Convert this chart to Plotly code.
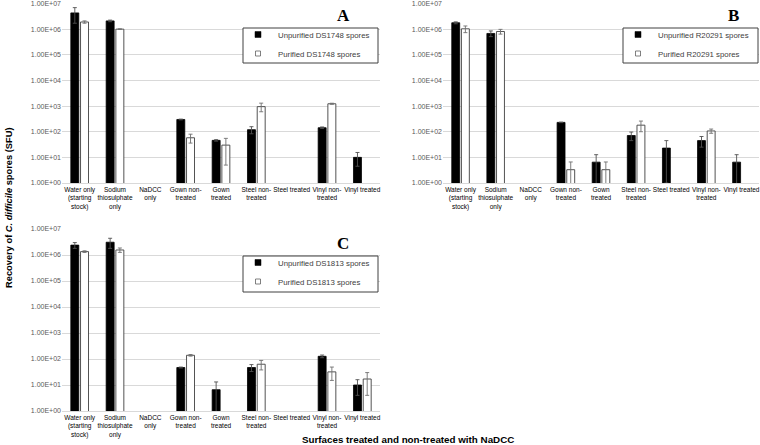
import plotly.graph_objects as go

categories = ["Water only<br>(starting<br>stock)", "Sodium<br>thiosulphate<br>only", "NaDCC<br>only",
              "Gown non-<br>treated", "Gown<br>treated", "Steel non-<br>treated", "Steel treated",
              "Vinyl non-<br>treated", "Vinyl treated"]

tick_vals = [1, 10, 100, 1000, 10000, 100000, 1000000, 10000000]
tick_text = ["1.00E+00", "1.00E+01", "1.00E+02", "1.00E+03", "1.00E+04", "1.00E+05", "1.00E+06", "1.00E+07"]

# Panel A: DS1748
a_unpur = [4.3e6, 2.1e6, None, 300, 46, 120, None, 143, 10]
a_unpur_err = [2.6e6, 0.15e6, None, 10, 3, 37, None, 10, 5.5]
a_pur = [1.9e6, 1.0e6, None, 58, 30, 950, None, 1230, None]
a_pur_err = [0.2e6, 0.03e6, None, 22, 25, 350, None, 60, None]

# Panel B: R20291
b_unpur = [1.77e6, 0.68e6, None, 231, 6.5, 71, 23, 45, 6.5]
b_unpur_err = [0.15e6, 0.17e6, None, 5, 6.2, 26, 22, 20, 6.2]
b_pur = [1.03e6, 0.81e6, None, 3.3, 3.3, 180, None, 107, None]
b_pur_err = [0.3e6, 0.17e6, None, 3.3, 3.3, 80, None, 20, None]

# Panel C: DS1813
c_unpur = [2.4e6, 3.1e6, None, 47, 6.6, 47, None, 127, 10]
c_unpur_err = [0.6e6, 1.3e6, None, 2, 6.5, 14, None, 15, 6]
c_pur = [1.35e6, 1.56e6, None, 139, None, 63, None, 32, 17]
c_pur_err = [0.1e6, 0.3e6, None, 10, None, 25, None, 17, 13]

panels = [
    ("A", "DS1748", a_unpur, a_unpur_err, a_pur, a_pur_err),
    ("B", "R20291", b_unpur, b_unpur_err, b_pur, b_pur_err),
    ("C", "DS1813", c_unpur, c_unpur_err, c_pur, c_pur_err),
]

W, H = 760, 445
def px(x):
    return x / W
def py(y):
    return 1 - y / H

fig = go.Figure()

axis_info = [
    # (x0, x1, ytop(1e7), ybottom(1e0)) in pixels
    (62, 380, 3.5, 183),
    (443, 759, 3.5, 183),
    (62, 380, 229, 411),
]
legend_box = [(243, 28, 378, 63), (623, 28, 758, 63), (243, 256, 378, 292)]
letter_pos = [(343, 16), (733, 16), (343, 243)]

UN_COLOR = "black"
PU_FILL = "white"
PU_LINE = "#404040"

for i, (letter, strain, un, une, pu, pue) in enumerate(panels):
    xa = "x" if i == 0 else f"x{i+1}"
    ya = "y" if i == 0 else f"y{i+1}"
    lg = "legend" if i == 0 else f"legend{i+1}"
    fig.add_trace(go.Bar(
        x=categories, y=un, name=f"Unpurified {strain} spores", showlegend=False,
        marker=dict(color=UN_COLOR, line=dict(color=UN_COLOR, width=0.8)),
        error_y=dict(type="data", array=une, color="#505050", thickness=0.9, width=2),
        xaxis=xa, yaxis=ya, offsetgroup="u",
    ))
    fig.add_trace(go.Bar(
        x=categories, y=pu, name=f"Purified {strain} spores", showlegend=False,
        marker=dict(color=PU_FILL, line=dict(color=PU_LINE, width=0.9)),
        error_y=dict(type="data", array=pue, color="#707070", thickness=0.9, width=2),
        xaxis=xa, yaxis=ya, offsetgroup="p",
    ))
    # legend entries (small square keys as in the original)
    fig.add_trace(go.Scatter(
        x=[None], y=[None], mode="markers", name=f"Unpurified {strain} spores",
        marker=dict(symbol="square", size=6, color=UN_COLOR, line=dict(color=UN_COLOR, width=0.5)),
        xaxis=xa, yaxis=ya, legend=lg, showlegend=True,
    ))
    fig.add_trace(go.Scatter(
        x=[None], y=[None], mode="markers", name=f"Purified {strain} spores",
        marker=dict(symbol="square", size=5, color=PU_FILL, line=dict(color="#606060", width=0.8)),
        xaxis=xa, yaxis=ya, legend=lg, showlegend=True,
    ))
    x0, x1, yt, yb = axis_info[i]
    xkey = "xaxis" if i == 0 else f"xaxis{i+1}"
    ykey = "yaxis" if i == 0 else f"yaxis{i+1}"
    fig.update_layout(**{
        xkey: dict(domain=[px(x0), px(x1)], anchor=ya, showgrid=False, showline=True,
                   linecolor="#d9d9d9", linewidth=1, ticks="", automargin=False,
                   tickfont=dict(size=6.5, color="black", family="Liberation Sans Narrow, Arial Narrow, Arial"),
                   tickangle=0, fixedrange=True, ticklabeloverflow="allow"),
        ykey: dict(domain=[py(yb), py(yt)], anchor=xa, type="log", range=[0, 7],
                   tickvals=tick_vals, ticktext=tick_text, showgrid=True, automargin=False,
                   gridcolor="#d9d9d9", gridwidth=1, zeroline=False, showline=False,
                   tickfont=dict(size=7, color="#595959", family="Liberation Sans, Arial"),
                   ticks="", fixedrange=True, ticklabeloverflow="allow"),
    })
    bx0, by0, bx1, by1 = legend_box[i]
    fig.add_shape(type="rect", xref="paper", yref="paper",
                  x0=px(bx0), x1=px(bx1), y0=py(by1), y1=py(by0),
                  line=dict(color="#404040", width=1), fillcolor="white", layer="above")
    fig.update_layout(**{
        lg: dict(x=px(bx0 - 5), y=py(by0 - 8), xanchor="left", yanchor="top",
                 borderwidth=0, bgcolor="rgba(0,0,0,0)", itemsizing="trace",
                 font=dict(size=7.8, color="#404040", family="Liberation Sans, Arial"),
                 itemwidth=30, tracegroupgap=0)
    })
    tx, ty = letter_pos[i]
    fig.add_annotation(text=f"<b>{letter}</b>", x=px(tx), y=py(ty), xref="paper", yref="paper",
                       xanchor="center", yanchor="middle", showarrow=False,
                       font=dict(size=17, color="black", family="Liberation Serif, Times New Roman"))

fig.add_annotation(text="<b>Recovery of <i>C. difficile</i> spores (SFU)</b>", x=px(9), y=py(208),
                   xref="paper", yref="paper", xanchor="center", yanchor="middle",
                   showarrow=False, textangle=-90,
                   font=dict(size=9.3, color="black", family="Liberation Sans, Arial"))
fig.add_annotation(text="<b>Surfaces treated and non-treated with NaDCC</b>", x=px(408), y=py(439),
                   xref="paper", yref="paper", xanchor="center", yanchor="middle", showarrow=False,
                   font=dict(size=9.8, color="black", family="Liberation Sans, Arial"))

fig.update_layout(width=W, height=H, margin=dict(l=0, r=0, t=0, b=0),
                  paper_bgcolor="white", plot_bgcolor="white",
                  barmode="group", bargap=0.45, bargroupgap=0.18, showlegend=True)

fig.write_html("out.html", config={"displayModeBar": False},
               post_script="document.body.style.margin='0px';")
